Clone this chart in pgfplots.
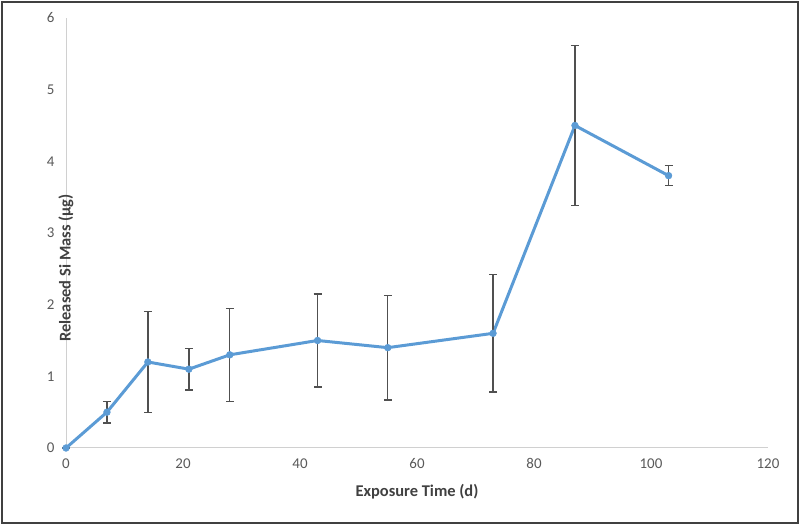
\documentclass[border=0pt]{standalone}
\usepackage{pgfplots}
\pgfplotsset{compat=1.18}
\usepackage{fontspec}
\setmainfont{Carlito}

\definecolor{xlblue}{HTML}{5B9BD5}
\definecolor{axgray}{HTML}{D0D0D0}
\definecolor{tickgray}{HTML}{595959}
\definecolor{labgray}{HTML}{404040}
\definecolor{errgray}{HTML}{505050}

\begin{document}
\begin{tikzpicture}[x=1bp,y=1bp]
  % chart frame
  \path (0,0) rectangle (800,525);
  \draw[line width=2bp, color=black!75] (2,2) rectangle (798,523);

  \begin{axis}[
      at={(66bp,77bp)}, anchor=south west,
      scale only axis,
      width=702bp, height=430bp,
      xmin=0, xmax=120, ymin=0, ymax=6,
      xtick={0,20,...,120},
      ytick={0,1,...,6},
      axis lines*=left,
      axis line style={color=axgray, line width=1bp},
      tick style={draw=none},
      tick label style={font=\fontsize{15}{17}\selectfont, text=tickgray},
      /pgf/number format/assume math mode=true,
      xticklabel style={yshift=-7bp},
      yticklabel style={xshift=-8bp},
      xlabel={\textbf{Exposure Time (d)}},
      ylabel={\textbf{Released Si Mass (µg)}},
      label style={font=\fontsize{16.5}{18}\selectfont, text=labgray},
      xlabel style={at={(axis description cs:0.5,0)}, anchor=center, yshift=-44bp},
      ylabel style={at={(axis description cs:0,0.5)}, anchor=center, xshift=-35bp},
      clip=false,
    ]
    \addplot[
      color=xlblue, line width=3bp,
      mark=*, mark size=3.4bp,
      mark options={fill=xlblue, draw=xlblue, line width=0.5bp},
      error bars/.cd,
        y dir=both, y explicit,
        error bar style={color=errgray, line width=1.3bp},
        error mark options={rotate=90, mark size=4bp, color=errgray, line width=1.3bp},
    ] table[x=t, y=m, y error=e] {
      t   m    e
      0   0.0  0.0
      7   0.5  0.15
      14  1.2  0.70
      21  1.1  0.29
      28  1.3  0.65
      43  1.5  0.65
      55  1.4  0.73
      73  1.6  0.82
      87  4.5  1.12
      103 3.8  0.14
    };
  \end{axis}
\end{tikzpicture}
\end{document}
